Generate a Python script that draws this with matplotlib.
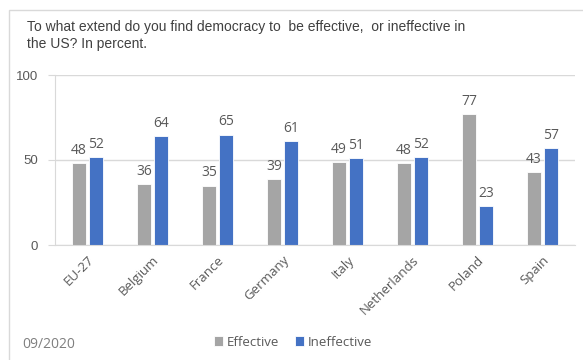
#!/usr/bin/env python3
import numpy as np
import matplotlib.pyplot as plt
from matplotlib.patches import Rectangle

countries = ["EU-27", "Belgium", "France", "Germany", "Italy", "Netherlands", "Poland", "Spain"]
effective = [48, 36, 35, 39, 49, 48, 77, 43]
ineffective = [52, 64, 65, 61, 51, 52, 23, 57]

gray = "#A5A5A5"
blue = "#4472C4"
text_col = "#595959"

plt.rcParams["font.family"] = ["Liberation Sans", "DejaVu Sans"]

fig = plt.figure(figsize=(5.83, 3.6), dpi=100)

# light frame around the chart area (Excel export look)
fig.add_artist(Rectangle((9 / 583, -0.05), 1.0, (350 / 360) + 0.05,
                         transform=fig.transFigure, fill=False,
                         edgecolor="#D9D9D9", linewidth=1.0))

ax = fig.add_axes([55 / 583, 1 - 245 / 360, 520 / 583, 170 / 360])

x = np.arange(len(countries))
w = 0.22
off = 0.13
b1 = ax.bar(x - off, effective, w, color=gray, edgecolor="white", linewidth=0.6, label="Effective", zorder=2)
b2 = ax.bar(x + off, ineffective, w, color=blue, edgecolor="white", linewidth=0.6, label="Ineffective", zorder=2)

for bars, vals in ((b1, effective), (b2, ineffective)):
    for r, v in zip(bars, vals):
        ax.text(r.get_x() + r.get_width() / 2, v + 3, str(v), ha="center", va="bottom",
                fontsize=10, color=text_col, family=["Open Sans", "DejaVu Sans"])

ax.set_xlim(-0.5, len(countries) - 0.5)
ax.set_ylim(0, 100)
ax.set_yticks([0, 50, 100])
ax.yaxis.grid(True, color="#D9D9D9", linewidth=1.0, zorder=0)
ax.set_axisbelow(True)
ax.tick_params(axis="y", length=5, color="#D9D9D9", labelsize=9.5, labelcolor=text_col, pad=7)
ax.tick_params(axis="x", length=0, labelsize=9.5, labelcolor=text_col, pad=6)
ax.set_xticks(x)
ax.set_xticklabels(countries, rotation=45, ha="right", rotation_mode="anchor")
for t in ax.get_xticklabels():
    t.set_family(["Open Sans", "DejaVu Sans"])
for s in ("top", "right"):
    ax.spines[s].set_visible(False)
ax.spines["left"].set_color("#D9D9D9")
ax.spines["bottom"].set_color("#D9D9D9")

fig.text(27 / 583, 1 - 20 / 360,
         "To what extend do you find democracy to  be effective,  or ineffective in\nthe US? In percent.",
         ha="left", va="top", fontsize=10, color="#404040", linespacing=1.3)

fig.text(22 / 583, 1 - 345 / 360, "09/2020", ha="left", va="center", fontsize=10,
         color="#7F7F7F", family=["Open Sans", "DejaVu Sans"])

fig.legend(handles=[b1, b2], labels=["Effective", "Ineffective"], loc="center",
           bbox_to_anchor=(293 / 583, 1 - 342 / 360), ncol=2, frameon=False,
           handlelength=0.7, handleheight=0.7, handletextpad=0.3,
           columnspacing=1.2, labelcolor=text_col,
           prop={"family": ["Open Sans", "DejaVu Sans"], "size": 9.5})

fig.savefig("out.png", dpi=100)
